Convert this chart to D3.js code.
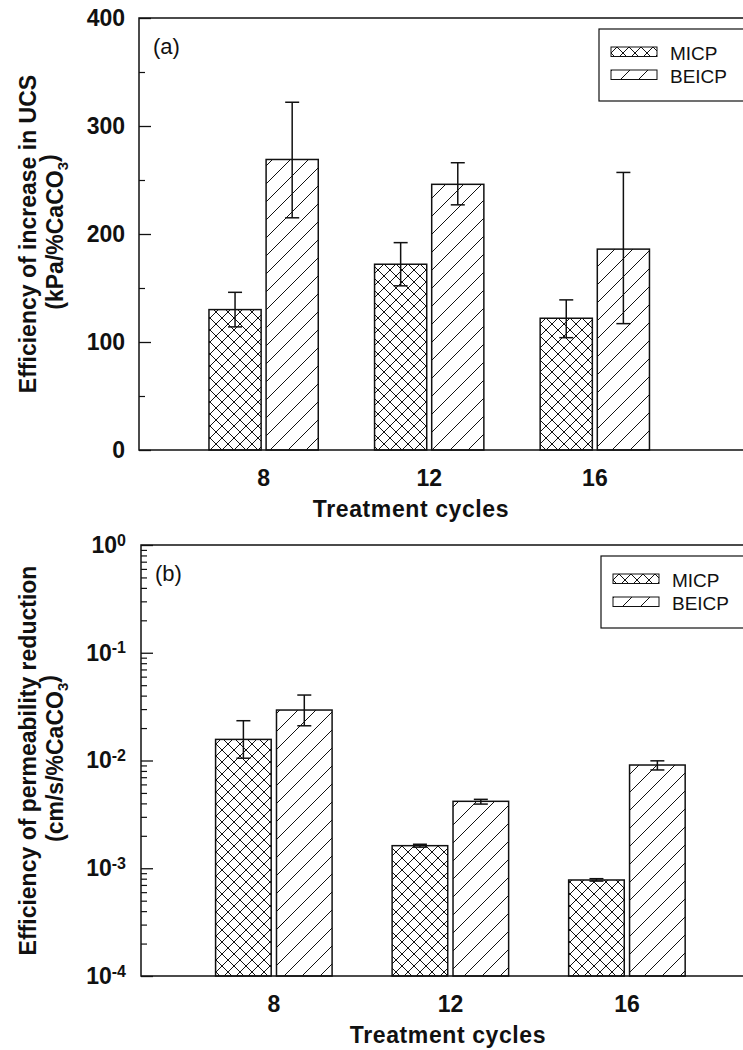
<!DOCTYPE html>
<html>
<head>
<meta charset="utf-8">
<script src="https://cdn.jsdelivr.net/npm/d3@7"></script>
<style>
  body { margin: 0; background: #fff; }
  text { font-family: "Liberation Sans", Arial, sans-serif; fill: #111; }
</style>
</head>
<body>
<script>
const cycles = [8, 12, 16];
const series = ["MICP", "BEICP"];

// (a) efficiency of increase in UCS, kPa/%CaCO3
const ucsMICP = [130, 172, 122];
const ucsMICPLow = [114, 152, 104];
const ucsMICPHigh = [146, 192, 139];
const ucsBEICP = [269, 246, 186];
const ucsBEICPLow = [215, 227, 117];
const ucsBEICPHigh = [322, 266, 257];
const ucsTicks = [0, 100, 200, 300, 400];
const ucsMinorTicks = [50, 150, 250, 350];

// (b) efficiency of permeability reduction, cm/s/%CaCO3
const permMICP = [0.0157, 0.00162, 0.000778];
const permMICPLow = [0.0105, 0.00157, 0.00076];
const permMICPHigh = [0.0234, 0.00167, 0.0008];
const permBEICP = [0.0294, 0.00418, 0.00908];
const permBEICPLow = [0.021, 0.00394, 0.00817];
const permBEICPHigh = [0.0405, 0.00436, 0.00993];
const permTicks = [1e-4, 1e-3, 1e-2, 1e-1, 1];

const W = 743, H = 1050;
const ink = "#111";

const svg = d3.select("body").append("svg")
  .attr("width", W).attr("height", H);

const defs = svg.append("defs");
const cross = defs.append("pattern").attr("id", "cross")
  .attr("patternUnits", "userSpaceOnUse").attr("width", 12).attr("height", 12);
cross.append("path").attr("d", "M0,0L12,12M12,0L0,12")
  .attr("stroke", ink).attr("stroke-width", 1);
const diag = defs.append("pattern").attr("id", "diag")
  .attr("patternUnits", "userSpaceOnUse").attr("width", 18).attr("height", 18);
diag.append("path").attr("d", "M0,18L18,0M-4.5,4.5L4.5,-4.5M13.5,22.5L22.5,13.5")
  .attr("stroke", ink).attr("stroke-width", 1);
const fills = ["url(#cross)", "url(#diag)"];

function panel(cfg) {
  const g = svg.append("g");
  const x = d3.scaleLinear().domain([5, 20]).range([cfg.left, cfg.right]);
  const y = cfg.y;
  const base = cfg.base;

  // frame: top, left, bottom (right side runs off the page)
  g.append("path")
    .attr("d", `M${cfg.right},${cfg.top}H${cfg.left}V${cfg.bottom}H${cfg.right}`)
    .attr("fill", "none").attr("stroke", ink).attr("stroke-width", 1.5);

  // y axis, ticks pointing inward
  const yAxis = d3.axisLeft(y).tickValues(cfg.ticks)
    .tickSizeInner(-12).tickSizeOuter(0).tickPadding(cfg.pad);
  if (cfg.log) yAxis.tickFormat(() => "");
  const ya = g.append("g").attr("transform", `translate(${cfg.left},0)`).call(yAxis);
  ya.select(".domain").remove();
  ya.selectAll(".tick line").attr("stroke", ink).attr("stroke-width", 1.3);
  ya.selectAll(".tick text")
    .attr("font-size", "23px").attr("font-weight", "bold")
    .attr("font-family", "'Liberation Sans', Arial, sans-serif").attr("fill", ink);
  if (cfg.log) {
    ya.selectAll(".tick text").each(function(d) {
      const t = d3.select(this);
      t.append("tspan").text("10");
      t.append("tspan").attr("dy", "-0.45em").attr("font-size", "16px")
        .text(String(Math.round(Math.log10(d))).replace("-", "-"));
    });
  }
  const minor = d3.axisLeft(y).tickValues(cfg.minor)
    .tickSizeInner(-6).tickSizeOuter(0).tickFormat("");
  const ym = g.append("g").attr("transform", `translate(${cfg.left},0)`).call(minor);
  ym.select(".domain").remove();
  ym.selectAll(".tick line").attr("stroke", ink).attr("stroke-width", 1.2);

  // x tick labels (no tick marks)
  const xAxis = d3.axisBottom(x).tickValues(cycles).tickSize(0).tickPadding(20);
  const xa = g.append("g").attr("transform", `translate(0,${cfg.bottom})`).call(xAxis);
  xa.select(".domain").remove();
  xa.selectAll(".tick text")
    .attr("font-size", "23px").attr("font-weight", "bold")
    .attr("font-family", "'Liberation Sans', Arial, sans-serif").attr("fill", ink);

  // bars
  const offs = [[-1.31, -0.05], [0.07, 1.33]];
  cfg.values.forEach((vals, s) => {
    g.selectAll(null).data(vals).enter().append("rect")
      .attr("x", (d, i) => x(cycles[i] + offs[s][0]))
      .attr("width", (d, i) => x(cycles[i] + offs[s][1]) - x(cycles[i] + offs[s][0]))
      .attr("y", d => y(d))
      .attr("height", d => y(base) - y(d))
      .attr("fill", fills[s])
      .attr("stroke", ink).attr("stroke-width", 1.5);
  });

  // error bars
  cfg.values.forEach((vals, s) => {
    const lo = cfg.low[s], hi = cfg.high[s];
    const cx = i => x(cycles[i] + (offs[s][0] + offs[s][1]) / 2);
    const eb = g.selectAll(null).data(vals).enter().append("g")
      .attr("stroke", ink).attr("stroke-width", 1.5);
    eb.append("line").attr("x1", (d, i) => cx(i)).attr("x2", (d, i) => cx(i))
      .attr("y1", (d, i) => y(lo[i])).attr("y2", (d, i) => y(hi[i]));
    eb.append("line").attr("x1", (d, i) => cx(i) - 7).attr("x2", (d, i) => cx(i) + 7)
      .attr("y1", (d, i) => y(hi[i])).attr("y2", (d, i) => y(hi[i]));
    eb.append("line").attr("x1", (d, i) => cx(i) - 7).attr("x2", (d, i) => cx(i) + 7)
      .attr("y1", (d, i) => y(lo[i])).attr("y2", (d, i) => y(lo[i]));
  });

  // panel letter
  g.append("text").attr("x", cfg.left + 14).attr("y", cfg.top + 36)
    .attr("font-size", "22px").text(cfg.letter);

  // legend
  const lg = g.append("g").attr("transform", `translate(${cfg.legX},${cfg.legY})`);
  lg.append("rect").attr("width", 146).attr("height", 72)
    .attr("fill", "#fff").attr("stroke", ink).attr("stroke-width", 1.2);
  series.forEach((name, s) => {
    lg.append("rect").attr("x", 12).attr("y", 18 + s * 23)
      .attr("width", 46).attr("height", 9.5)
      .attr("fill", fills[s]).attr("stroke", ink).attr("stroke-width", 1);
    lg.append("text").attr("x", 71).attr("y", 31 + s * 23)
      .attr("font-size", "19px").text(name);
  });

  // x title
  g.append("text").attr("x", cfg.xTitleX).attr("y", cfg.bottom + 67)
    .attr("text-anchor", "middle").attr("font-size", "23px").attr("font-weight", "bold")
    .attr("letter-spacing", "0.6px")
    .text("Treatment cycles");

  // y title, two lines
  const cy = (cfg.top + cfg.bottom) / 2;
  g.append("text").attr("transform", `translate(36,${cy}) rotate(-90)`)
    .attr("text-anchor", "middle").attr("font-size", "23px").attr("font-weight", "bold")
    .text(cfg.yTitle);
  const t2 = g.append("text").attr("transform", `translate(63,${cy - 2}) rotate(-90)`)
    .attr("text-anchor", "middle").attr("font-size", "23px").attr("font-weight", "bold");
  t2.append("tspan").text(cfg.yUnit);
  t2.append("tspan").attr("dy", "0.3em").attr("font-size", "15px").text("3");
  t2.append("tspan").attr("dy", "-0.45em").text(")");
}

panel({
  left: 139, right: 760, top: 18, bottom: 450,
  y: d3.scaleLinear().domain([0, 400]).range([450, 18]),
  base: 0, log: false, pad: 14,
  ticks: ucsTicks, minor: ucsMinorTicks,
  values: [ucsMICP, ucsBEICP],
  low: [ucsMICPLow, ucsBEICPLow], high: [ucsMICPHigh, ucsBEICPHigh],
  letter: "(a)", legX: 599, legY: 29,
  xTitleX: 411,
  yTitle: "Efficiency of increase in UCS", yUnit: "(kPa/%CaCO"
});

const permMinor = [];
permTicks.slice(0, -1).forEach(p => { for (let k = 2; k <= 9; k++) permMinor.push(k * p); });

panel({
  left: 141, right: 803, top: 545, bottom: 976,
  y: d3.scaleLog().domain([1e-4, 1]).range([976, 545]),
  base: 1e-4, log: true, pad: 15,
  ticks: permTicks, minor: permMinor,
  values: [permMICP, permBEICP],
  low: [permMICPLow, permBEICPLow], high: [permMICPHigh, permBEICPHigh],
  letter: "(b)", legX: 601, legY: 556,
  xTitleX: 448,
  yTitle: "Efficiency of permeability reduction", yUnit: "(cm/s/%CaCO"
});
</script>
</body>
</html>
